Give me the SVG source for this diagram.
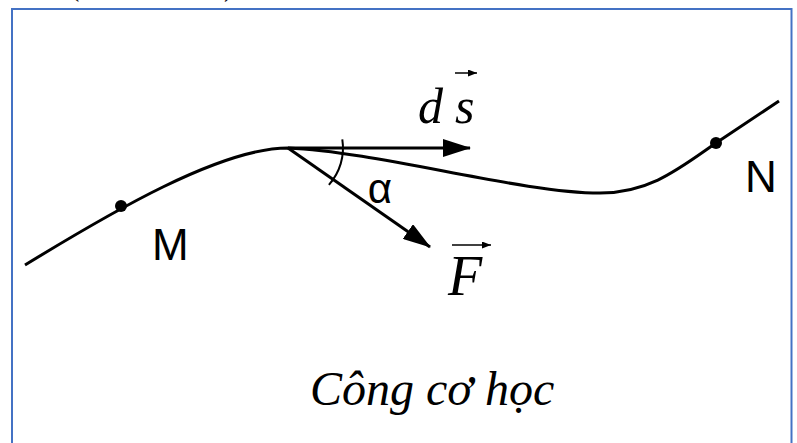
<svg xmlns="http://www.w3.org/2000/svg" width="797" height="443" viewBox="0 0 797 443">
  <defs>
    <style>
      .ln { fill: none; stroke: #000; stroke-width: 3; }
      .thin { fill: none; stroke: #000; stroke-width: 2; }
      .sans { font-family: "Liberation Sans", Arial, sans-serif; fill: #000; }
      .it { font-family: "Liberation Serif", "Times New Roman", serif; font-style: italic; fill: #000; }
      .paren { font-family: "Liberation Serif", "Times New Roman", serif; fill: #000; font-size: 28px; }
    </style>
    <marker id="head" viewBox="0 0 28 18" markerWidth="28" markerHeight="18" refX="27" refY="9" orient="auto" markerUnits="userSpaceOnUse">
      <path d="M0,0 L28,9 L0,18 z" fill="#000"/>
    </marker>
    <marker id="smallHead" viewBox="0 0 9 7" markerWidth="9" markerHeight="7" refX="9" refY="3.5" orient="auto" markerUnits="userSpaceOnUse">
      <path d="M0,0 L9,3.5 L0,7 z" fill="#000"/>
    </marker>
  </defs>

  <rect x="0" y="0" width="797" height="443" fill="#fff"/>

  <!-- clipped parentheses from text above (cut off in the reference too) -->
  <text class="paren" x="70" y="-4">(</text>
  <text class="paren" x="224" y="-4">)</text>

  <!-- frame -->
  <rect x="12" y="9" width="779.5" height="450" fill="none" stroke="#4472C4" stroke-width="2"/>

  <!-- trajectory -->
  <g id="trajectory">
    <path class="ln" d="M25,265 C110,213 220,148 288,148 C380,152 520,193 600,193 C650,193 680,168 716,143 L779,101"/>
  </g>

  <g id="point-M">
    <circle cx="121" cy="206" r="6" fill="#000"/>
    <text class="sans" x="152" y="260" font-size="44">M</text>
  </g>

  <g id="point-N">
    <circle cx="716" cy="143" r="6" fill="#000"/>
    <text class="sans" x="745" y="192" font-size="44">N</text>
  </g>

  <g id="connectors">
    <line class="ln" x1="288" y1="148" x2="470" y2="148" marker-end="url(#head)"/>
    <line class="ln" x1="288" y1="148" x2="430" y2="247" marker-end="url(#head)"/>
    <path class="thin" d="M342.3,139.4 A55,55 0 0 1 328.9,184.8"/>
  </g>

  <g id="label-alpha">
    <text class="sans" x="380" y="203" font-size="42" text-anchor="middle">α</text>
  </g>

  <g id="label-ds">
    <text class="it" x="418" y="123" font-size="50">d</text>
    <text class="it" x="455" y="123" font-size="50">s</text>
    <line x1="455" y1="73" x2="477" y2="73" stroke="#000" stroke-width="1.5" marker-end="url(#smallHead)"/>
  </g>

  <g id="label-F">
    <text class="it" x="448" y="295" font-size="56">F</text>
    <line x1="452" y1="245" x2="491" y2="245" stroke="#000" stroke-width="1.5" marker-end="url(#smallHead)"/>
  </g>

  <g id="caption">
    <text class="it" x="310" y="405" font-size="48">Công cơ học</text>
  </g>
</svg>
